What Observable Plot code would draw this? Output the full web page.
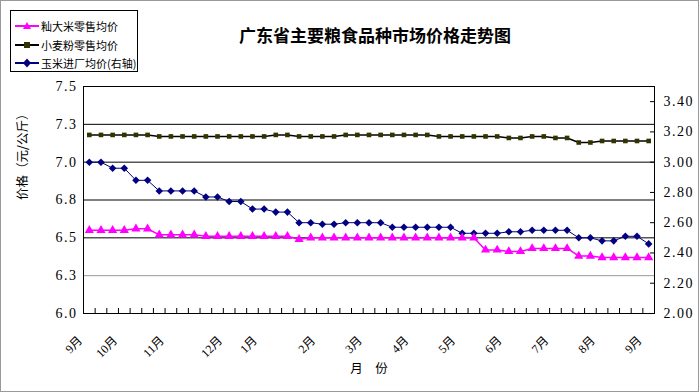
<!DOCTYPE html>
<html><head><meta charset="utf-8">
<script src="https://cdn.jsdelivr.net/npm/d3@7"></script>
<script src="https://cdn.jsdelivr.net/npm/@observablehq/plot@0.6"></script>
<style>
body{margin:0;background:#fff;}
#wrap{position:relative;width:700px;height:392px;overflow:hidden;background:#fff;}
#border{position:absolute;left:0;top:0;width:697px;height:390px;border:1px solid #999;pointer-events:none;}
#title{position:absolute;left:0;width:750px;top:25px;line-height:20px;text-align:center;font-weight:bold;font-size:17px;font-family:"Noto Sans CJK SC",sans-serif;color:#000;}
#legend{position:absolute;left:10px;top:10px;width:126px;height:60px;border:1px solid #000;background:#fff;font-family:"Noto Sans CJK SC",sans-serif;font-size:11px;color:#000;}
.row{position:absolute;left:4px;height:14px;line-height:14px;white-space:nowrap;}
.row svg{vertical-align:middle;margin-right:2px;}
.row span{vertical-align:middle;}
#chart{position:absolute;left:0;top:0;}
#chart g[aria-label="y-axis tick label"] text{letter-spacing:1.5px;}
</style></head>
<body>
<div id="wrap">
  <div id="chart"></div>
  <div id="title"></div>
  <div id="legend"></div>
  <div id="border"></div>
</div>
<script>
// ---- data ----
const titleText = "广东省主要粮食品种市场价格走势图";
const seriesNames = ["籼大米零售均价", "小麦粉零售均价", "玉米进厂均价(右轴)"];
const seriesColors = ["#ff00ff", "#333300", "#000080"];
const yLabel = "价格（元/公斤）";
const xLabel = "月　份";

const monthLabels = ["9月","10月","11月","12月","1月","2月","3月","4月","5月","6月","7月","8月","9月"];
const monthIndex = [0, 3, 7, 12, 15, 20, 24, 28, 32, 36, 40, 44, 48];

const leftTicks = [6.0, 6.25, 6.5, 6.75, 7.0, 7.25, 7.5];
const leftTickLabels = ["6.0","6.3","6.5","6.8","7.0","7.3","7.5"];
const rightTicks = [2.0, 2.2, 2.4, 2.6, 2.8, 3.0, 3.2, 3.4];
const rightTickLabels = ["2.00","2.20","2.40","2.60","2.80","3.00","3.20","3.40"];
const leftDomain = [6.0, 7.5];
const rightDomain = [2.0, 3.5];

// 籼大米零售均价 (left axis)
const rice = [6.55,6.55,6.55,6.55,6.56,6.56,6.52,6.52,6.52,6.52,
              6.51,6.51,6.51,6.51,6.51,6.51,6.51,6.51,6.49,6.50,
              6.50,6.50,6.50,6.50,6.50,6.50,6.50,6.50,6.50,6.50,
              6.50,6.50,6.50,6.50,6.42,6.42,6.41,6.41,6.43,6.43,
              6.43,6.43,6.38,6.38,6.37,6.37,6.37,6.37,6.37];
// 小麦粉零售均价 (left axis)
const wheat = [7.18,7.18,7.18,7.18,7.18,7.18,7.17,7.17,7.17,7.17,
               7.17,7.17,7.17,7.17,7.17,7.17,7.18,7.18,7.17,7.17,
               7.17,7.17,7.18,7.18,7.18,7.18,7.18,7.18,7.18,7.18,
               7.17,7.17,7.17,7.17,7.17,7.17,7.16,7.16,7.17,7.17,
               7.16,7.16,7.13,7.13,7.14,7.14,7.14,7.14,7.14];
// 玉米进厂均价 (right axis)
const corn = [3.00,3.00,2.96,2.96,2.88,2.88,2.81,2.81,2.81,2.81,
              2.77,2.77,2.74,2.74,2.69,2.69,2.67,2.67,2.60,2.60,
              2.59,2.59,2.60,2.60,2.60,2.60,2.57,2.57,2.57,2.57,
              2.57,2.57,2.53,2.53,2.53,2.53,2.54,2.54,2.55,2.55,
              2.55,2.55,2.50,2.50,2.48,2.48,2.51,2.51,2.46];

// ---- build ----
const n = rice.length;
const toLeft = r => leftDomain[0] + (r - rightDomain[0]) * (leftDomain[1]-leftDomain[0])/(rightDomain[1]-rightDomain[0]);
const rows = d3.range(n).map(i => ({i, rice: rice[i], wheat: wheat[i], corn: toLeft(corn[i])}));
const bounds = d3.range(n - 1).map(i => i + 0.5);
const months = monthIndex.map((k, j) => ({k, label: monthLabels[j]}));

const W = 700, H = 392, mL = 83, mR = 46, mT = 86, mB = 79;
const pxPerY = (H - mT - mB) / (leftDomain[1] - leftDomain[0]);
const pxPerX = (W - mL - mR) / n;
const font = '"Liberation Serif","Noto Sans CJK SC",serif';

const chart = Plot.plot({
  width: W, height: H,
  marginLeft: mL, marginRight: mR, marginTop: mT, marginBottom: mB,
  x: {domain: [-0.5, n - 0.5], axis: null},
  y: {domain: leftDomain, axis: null},
  style: {background: "transparent", fontFamily: font, color: "#000", overflow: "visible"},
  marks: [
    Plot.ruleY(leftTicks.slice(1, -1), {stroke: d => d === 6.25 ? "#999" : "#000", strokeWidth: 1}),
    Plot.frame({stroke: "#000", strokeWidth: 1}),
    Plot.ruleX(bounds, {x: d => d, y1: leftDomain[0], y2: leftDomain[0] + 5 / pxPerY, stroke: "#000"}),
    Plot.ruleY(rightTicks, {y: d => toLeft(d), x1: n - 0.5 - 4 / pxPerX, x2: n - 0.5, stroke: "#000"}),
    Plot.axisY({anchor: "left", ticks: leftTicks, tickSize: 0, tickPadding: 6, fontSize: 14,
      tickFormat: d => leftTickLabels[leftTicks.indexOf(d)]}),
    Plot.axisY({anchor: "right", ticks: rightTicks.map(toLeft), tickSize: 0, tickPadding: 9, fontSize: 14,
      tickFormat: d => rightTickLabels[rightTicks.map(toLeft).findIndex(v => Math.abs(v - d) < 1e-9)]}),
    Plot.text(months, {x: "k", text: "label", frameAnchor: "bottom", rotate: -45, textAnchor: "end",
      lineAnchor: "middle", dx: -9, dy: 25, fontSize: 12}),
    Plot.text([yLabel], {frameAnchor: "left", dx: -61, rotate: -90, fontSize: 12.5, fontFamily: '"Noto Sans CJK SC"'}),
    Plot.text([xLabel], {frameAnchor: "bottom", dy: 59, fontSize: 12.5, fontFamily: '"Noto Sans CJK SC"'}),
    Plot.line(rows, {x: "i", y: "wheat", stroke: "#000", strokeWidth: 1.5}),
    Plot.dot(rows, {x: "i", y: "wheat", symbol: "square", r: 2.6, fill: seriesColors[1], stroke: "none"}),
    Plot.line(rows, {x: "i", y: "corn", stroke: seriesColors[2], strokeWidth: 1}),
    Plot.dot(rows, {x: "i", y: "corn", symbol: "diamond2", r: 3.4, fill: seriesColors[2], stroke: "none"}),
    Plot.line(rows, {x: "i", y: "rice", stroke: seriesColors[0], strokeWidth: 1.5}),
    Plot.dot(rows, {x: "i", y: "rice", symbol: "triangle", r: 3.4, fill: seriesColors[0], stroke: "none"})
  ]
});
document.getElementById("chart").appendChild(chart);
document.getElementById("title").textContent = titleText;

// legend
const lineColors = ["#ff00ff", "#000", "#000080"];
const symbols = [
  c => `<path d="M12,1 L16,8 L8,8 Z" fill="${c}"/>`,
  c => `<rect x="9" y="2" width="6" height="6" fill="${c}"/>`,
  c => `<path d="M12,0.5 L16,5 L12,9.5 L8,5 Z" fill="${c}"/>`
];
const leg = document.getElementById("legend");
seriesNames.forEach((name, j) => {
  const row = document.createElement("div");
  row.className = "row";
  row.style.top = (6 + j * 18.5) + "px";
  row.innerHTML = `<svg width="24" height="10"><line x1="0" y1="5" x2="24" y2="5" stroke="${lineColors[j]}" stroke-width="2"/>${symbols[j](seriesColors[j])}</svg><span>${name}</span>`;
  leg.appendChild(row);
});
</script>
</body></html>
